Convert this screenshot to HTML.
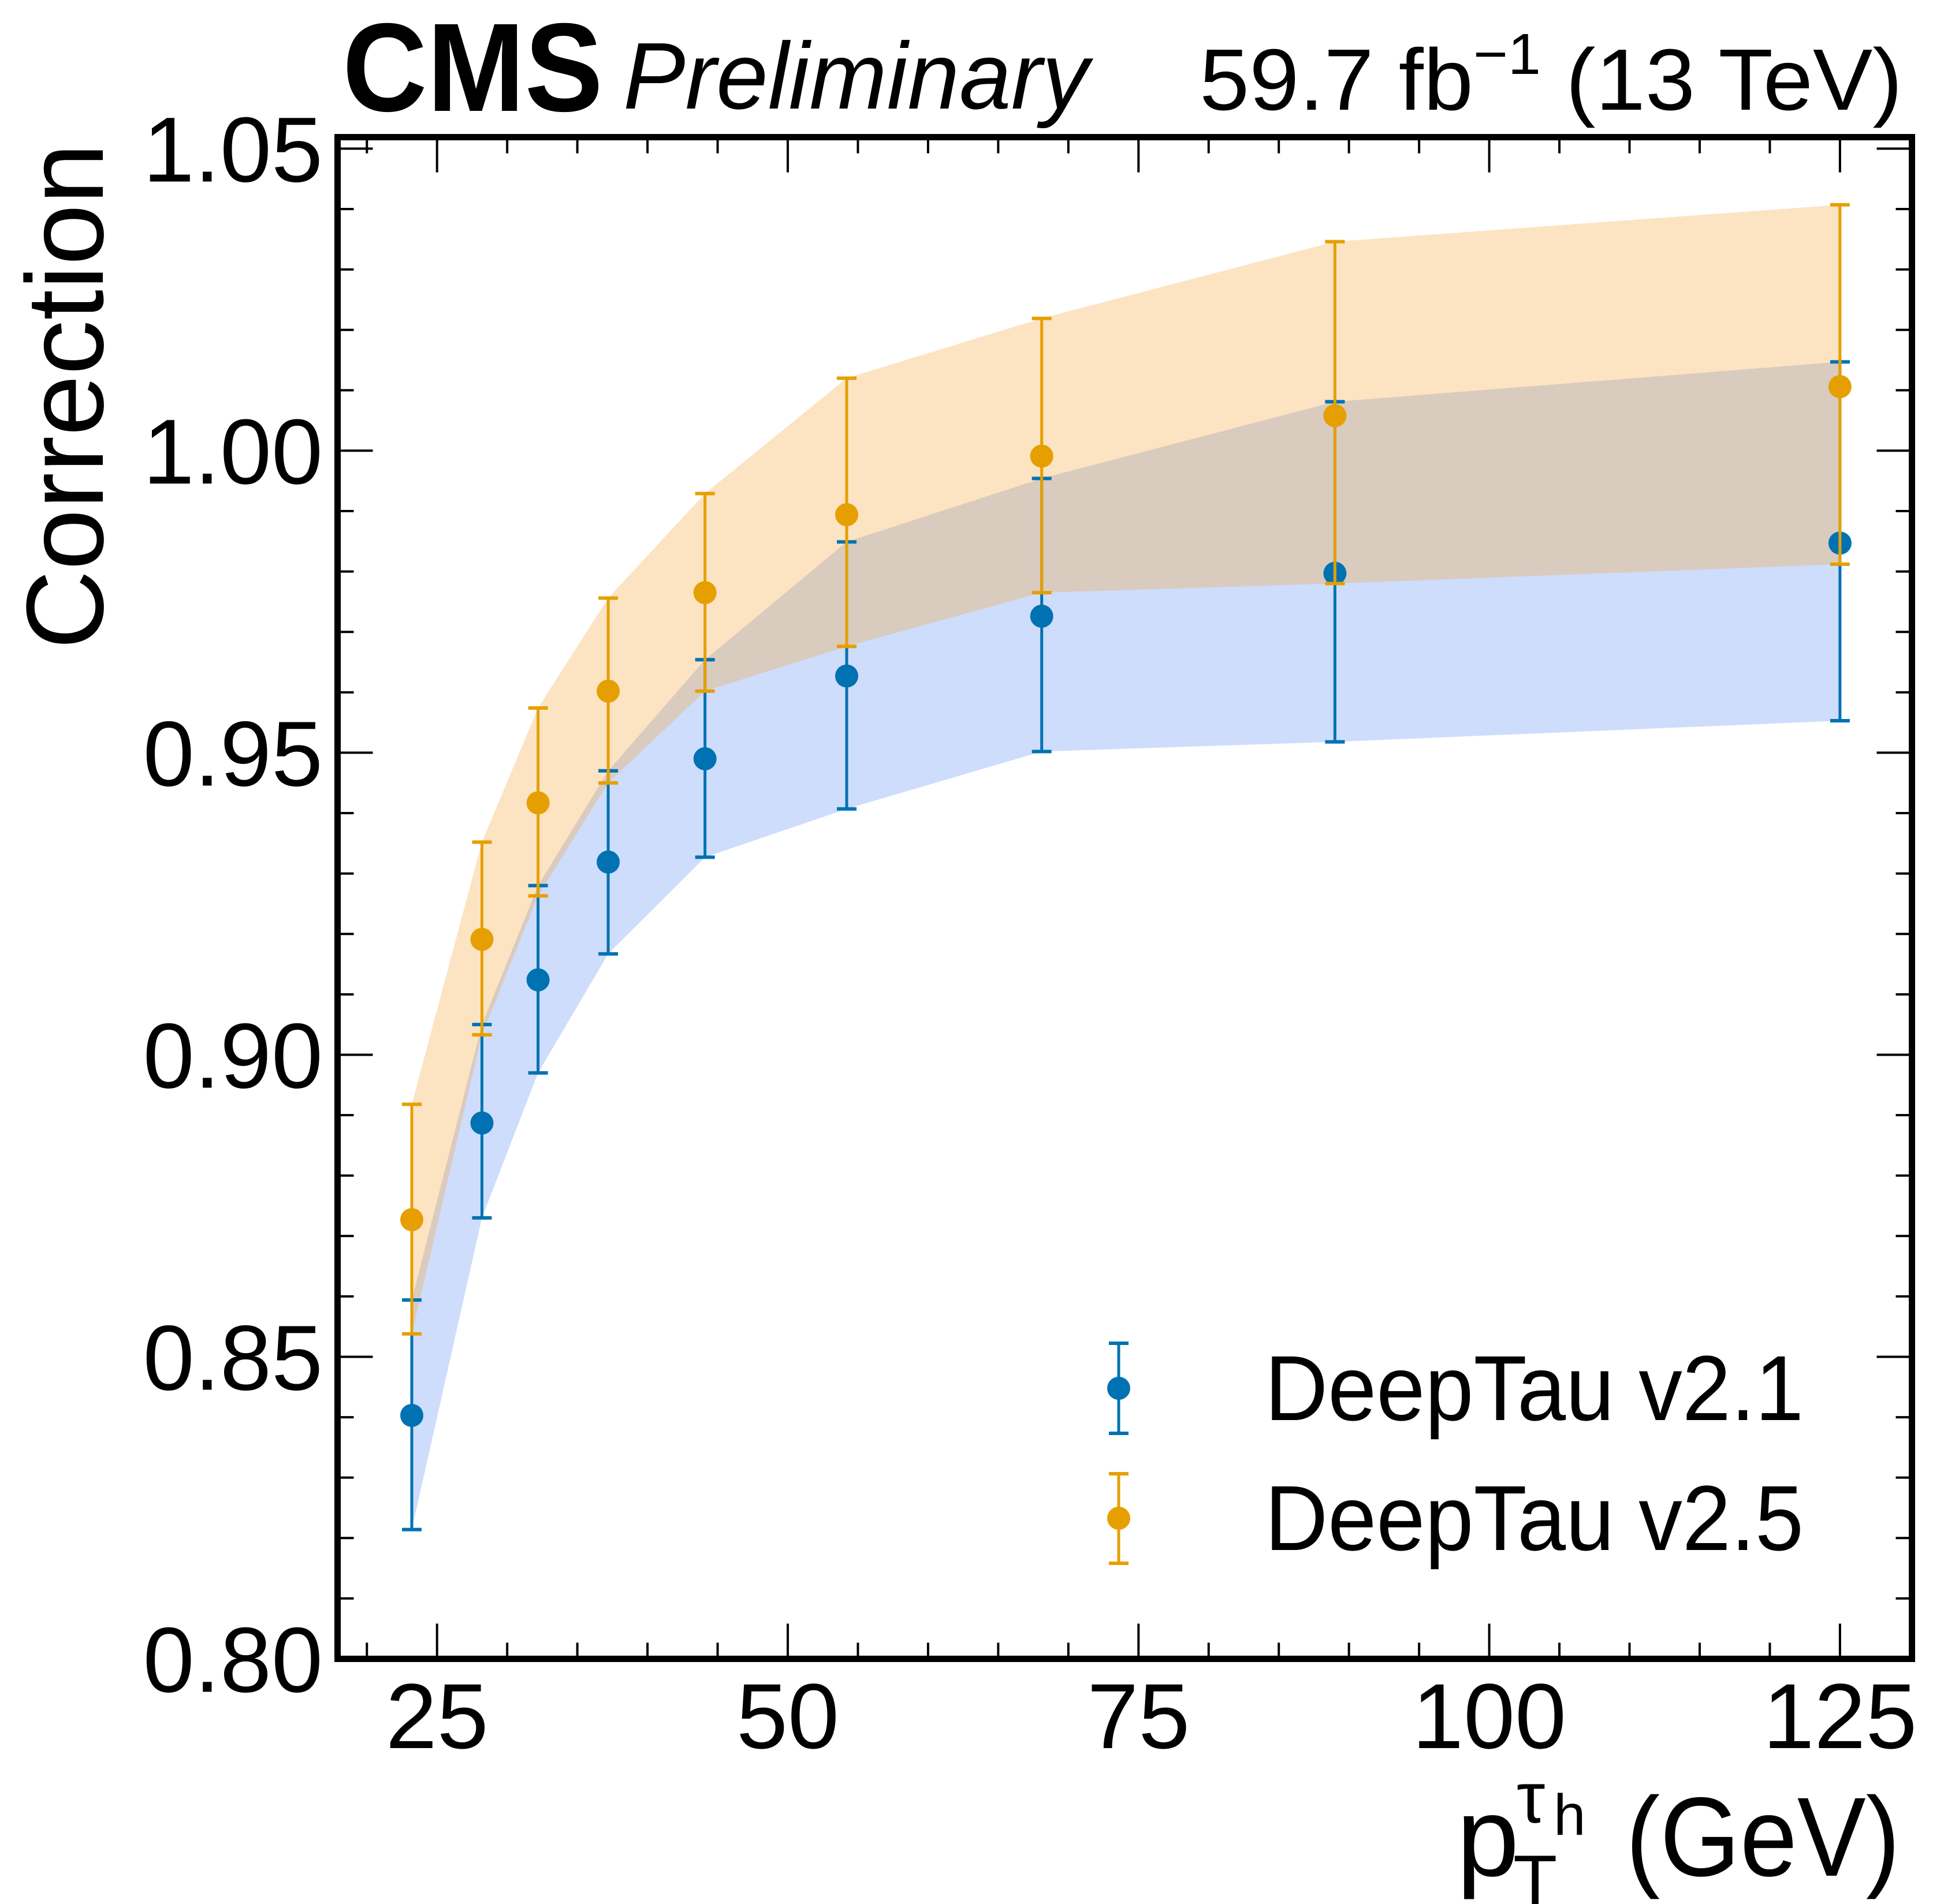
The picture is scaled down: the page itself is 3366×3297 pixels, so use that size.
<!DOCTYPE html>
<html><head><meta charset="utf-8"><style>
html,body{margin:0;padding:0;background:#fff}
svg{display:block}
text{font-family:"Liberation Sans",sans-serif;fill:#000}
</style></head><body>
<svg id="chart" width="3366" height="3297" viewBox="0 0 3366 3297" xmlns="http://www.w3.org/2000/svg">
<g id="bands"></g>
<g id="series"></g>
<g id="axes"></g>
<text x="593" y="192" font-size="218" font-weight="bold" textLength="451" lengthAdjust="spacingAndGlyphs">CMS</text>
<text x="1079" y="188" font-size="164" font-style="italic" textLength="806" lengthAdjust="spacingAndGlyphs">Preliminary</text>
<text x="2077" y="190" font-size="151" textLength="1217" lengthAdjust="spacingAndGlyphs">59.7 fb<tspan font-size="100" dy="-62">−1</tspan><tspan dy="62"> (13 TeV)</tspan></text>
<text transform="translate(178,248) rotate(-90)" text-anchor="end" font-size="190">Correction</text>
<g>
  <text x="2522" y="3248" font-size="195">p</text>
  <text x="2626" y="3156" font-size="125">τ</text>
  <text x="2690" y="3177" font-size="100">h</text>
  <text x="2620" y="3300" font-size="125">T</text>
  <text x="2815" y="3248" font-size="195" textLength="475" lengthAdjust="spacingAndGlyphs">(GeV)</text>
</g>
<g id="legend">
  <g>
    <line x1="1937" y1="2326" x2="1937" y2="2482" stroke="#0072b2" stroke-width="5"/>
    <line x1="1920" y1="2326" x2="1954" y2="2326" stroke="#0072b2" stroke-width="6"/>
    <line x1="1920" y1="2482" x2="1954" y2="2482" stroke="#0072b2" stroke-width="6"/>
    <circle cx="1937" cy="2404" r="20" fill="#0072b2"/>
    <text x="2190" y="2459" font-size="160" textLength="933" lengthAdjust="spacingAndGlyphs">DeepTau v2.1</text>
  </g>
  <g>
    <line x1="1937" y1="2552" x2="1937" y2="2707" stroke="#e69f00" stroke-width="5"/>
    <line x1="1920" y1="2552" x2="1954" y2="2552" stroke="#e69f00" stroke-width="6"/>
    <line x1="1920" y1="2707" x2="1954" y2="2707" stroke="#e69f00" stroke-width="6"/>
    <circle cx="1937" cy="2629" r="20" fill="#e69f00"/>
    <text x="2190" y="2684" font-size="160" textLength="933" lengthAdjust="spacingAndGlyphs">DeepTau v2.5</text>
  </g>
</g>
</svg>
<script>
const ptBins = [23.2, 28.2, 32.2, 37.2, 44.1, 54.2, 68.1, 89.0, 125.0];
const v21Values = [0.8403, 0.8887, 0.9124, 0.9319, 0.9490, 0.9627, 0.9726, 0.9797, 0.9847];
const v21Up = [0.8594, 0.9050, 0.9280, 0.9470, 0.9654, 0.9849, 0.9954, 1.0081, 1.0147];
const v21Down = [0.8214, 0.8730, 0.8970, 0.9167, 0.9327, 0.9407, 0.9502, 0.9518, 0.9553];
const v25Values = [0.8727, 0.9191, 0.9417, 0.9602, 0.9765, 0.9894, 0.9991, 1.0058, 1.0106];
const v25Up = [0.8918, 0.9352, 0.9574, 0.9756, 0.9929, 1.0120, 1.0219, 1.0346, 1.0407];
const v25Down = [0.8538, 0.9033, 0.9263, 0.9450, 0.9602, 0.9676, 0.9765, 0.9780, 0.9812];
const xTickLabels = [25, 50, 75, 100, 125];
const yTickLabels = ["0.80", "0.85", "0.90", "0.95", "1.00", "1.05"];

const NS = "http://www.w3.org/2000/svg";
const L = 584.5, R = 3310.5, T = 237.5, B = 2872.5;
const xMin = 17.91, xMax = 130.13, yMin = 0.80, yMax = 1.0519;
function X(v){ return L + (v - xMin) / (xMax - xMin) * (R - L); }
function Y(v){ return B - (v - yMin) / (yMax - yMin) * (B - T); }
function mk(tag, attrs, parent){
  const e = document.createElementNS(NS, tag);
  for (const k in attrs) e.setAttribute(k, attrs[k]);
  parent.appendChild(e);
  return e;
}
const bands = document.getElementById('bands');
const series = document.getElementById('series');
const axes = document.getElementById('axes');

function band(up, down, fill, op, name){
  let pts = [];
  for (let i = 0; i < ptBins.length; i++) pts.push(X(ptBins[i]) + ',' + Y(up[i]));
  for (let i = ptBins.length - 1; i >= 0; i--) pts.push(X(ptBins[i]) + ',' + Y(down[i]));
  const p = mk('polygon', {points: pts.join(' '), fill: fill, 'fill-opacity': op}, bands);
  
  
}
band(v21Up, v21Down, '#3d78f0', 0.25, 'band-v21');
band(v25Up, v25Down, '#f4a136', 0.3, 'band-v25');

function pts(vals, up, down, color, name){
  for (let i = 0; i < ptBins.length; i++){
    const g = mk('g', {}, series);
    
    
    const x = X(ptBins[i]);
    mk('line', {x1: x, x2: x, y1: Y(up[i]), y2: Y(down[i]), stroke: color, 'stroke-width': 5}, g);
    mk('line', {x1: x - 17, x2: x + 17, y1: Y(up[i]), y2: Y(up[i]), stroke: color, 'stroke-width': 6}, g);
    mk('line', {x1: x - 17, x2: x + 17, y1: Y(down[i]), y2: Y(down[i]), stroke: color, 'stroke-width': 6}, g);
    mk('circle', {cx: x, cy: Y(vals[i]), r: 20, fill: color}, g);
  }
}
pts(v21Values, v21Up, v21Down, '#0072b2', 'v21');
pts(v25Values, v25Up, v25Down, '#e69f00', 'v25');

for (let v = 20; v <= 130; v += 5){
  const major = v % 25 === 0;
  const len = major ? 61 : 28;
  const x = X(v);
  if (x < L || x > R) continue;
  mk('line', {x1: x, x2: x, y1: B, y2: B - len, stroke: '#000', 'stroke-width': 4}, axes);
  mk('line', {x1: x, x2: x, y1: T, y2: T + len, stroke: '#000', 'stroke-width': 4}, axes);
}
for (let k = 0; k <= 25; k++){
  const v = 0.80 + k * 0.01;
  const major = k % 5 === 0;
  const len = major ? 61 : 28;
  const y = Y(v);
  mk('line', {x1: L, x2: L + len, y1: y, y2: y, stroke: '#000', 'stroke-width': 4}, axes);
  mk('line', {x1: R, x2: R - len, y1: y, y2: y, stroke: '#000', 'stroke-width': 4}, axes);
}
xTickLabels.forEach(v => {
  const t = mk('text', {x: X(v), y: 3027, 'text-anchor': 'middle', 'font-size': 160}, axes);
  t.textContent = v;
  
  
});
yTickLabels.forEach(s => {
  const t = mk('text', {x: 559, y: Y(parseFloat(s)) + 57, 'text-anchor': 'end', 'font-size': 160}, axes);
  t.textContent = s;
  
  
});
const frame = mk('rect', {x: L, y: T, width: R - L, height: B - T, fill: 'none', stroke: '#000', 'stroke-width': 11}, axes);


</script>
</body></html>
